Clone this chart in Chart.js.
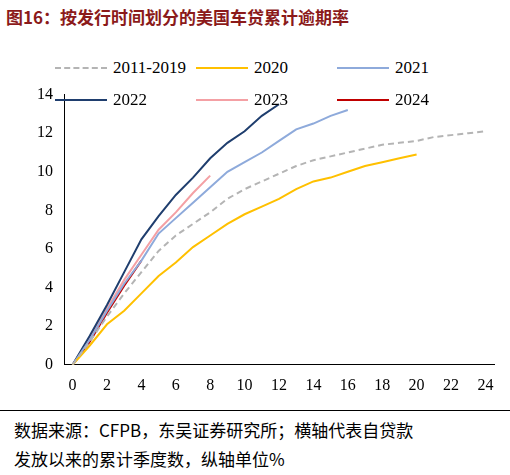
<!DOCTYPE html>
<html><head><meta charset="utf-8">
<script src="https://cdn.jsdelivr.net/npm/chart.js@4"></script>
<style>
body{margin:0;background:#fff;font-family:"Liberation Serif","Noto Sans CJK SC",serif;}
#title{position:absolute;left:6px;top:4px;font-family:"Noto Sans CJK SC";font-weight:bold;font-size:17px;color:#8b1a1a;}
#wrap{position:absolute;left:34px;top:82px;width:464px;height:316px;}
#legend{position:absolute;left:55px;top:58px;width:420px;font-size:17px;}
.item{position:absolute;display:flex;align-items:center;}
.sw{width:52px;height:0;border-top:2.5px solid;margin-right:6px;}
#foot{position:absolute;left:0;top:410px;width:510px;padding-left:14px;box-sizing:border-box;font-family:"Noto Sans CJK SC";font-size:17px;line-height:29px;border-top:1px solid #000;padding-top:4px;}
</style></head><body>
<div id="title">图16：按发行时间划分的美国车贷累计逾期率</div>
<div id="wrap"><canvas id="c"></canvas></div>
<div id="legend"></div>
<div id="foot">数据来源：CFPB，东吴证券研究所；横轴代表自贷款<br>发放以来的累计季度数，纵轴单位%</div>
<script>
const quarters = Array.from({length: 25}, (_, i) => i);
const s2011_2019 = [0,1.2,2.5,3.7,4.8,5.9,6.7,7.3,7.9,8.6,9.1,9.5,9.9,10.3,10.6,10.8,11.0,11.2,11.4,11.5,11.6,11.8,11.9,12.0,12.1];
const s2020 = [0,1.0,2.1,2.8,3.7,4.6,5.3,6.1,6.7,7.3,7.8,8.2,8.6,9.1,9.5,9.7,10.0,10.3,10.5,10.7,10.9];
const s2021 = [0,1.3,2.8,4.2,5.4,6.8,7.6,8.4,9.2,10.0,10.5,11.0,11.6,12.2,12.5,12.9,13.2];
const s2022 = [0,1.5,3.1,4.8,6.5,7.7,8.8,9.7,10.7,11.5,12.1,12.9,13.5];
const s2023 = [0,1.4,2.9,4.4,5.7,7.0,7.9,8.9,9.8];
const s2024 = [0,1.2,2.7,4.1,5.4];

const series = [
  {label:'2011-2019', data:s2011_2019, color:'#b4b4b4', dash:[6,4]},
  {label:'2020', data:s2020, color:'#ffc000'},
  {label:'2021', data:s2021, color:'#8eaadb'},
  {label:'2022', data:s2022, color:'#1f3e6e'},
  {label:'2023', data:s2023, color:'#f4a0a4'},
  {label:'2024', data:s2024, color:'#c00000'}
];

const leg = document.getElementById('legend');
series.forEach((s, i) => {
  const d = document.createElement('div');
  d.className = 'item';
  d.style.left = (i % 3) * 141 + 'px';
  d.style.top = Math.floor(i / 3) * 32 + 'px';
  d.innerHTML = `<span class="sw" style="border-color:${s.color};border-top-style:${s.dash ? 'dashed' : 'solid'}"></span>${s.label}`;
  leg.appendChild(d);
});

new Chart(document.getElementById('c'), {
  type: 'line',
  data: {
    datasets: series.map(s => ({
      label: s.label,
      data: s.data.map((v, i) => ({x: quarters[i], y: v})),
      borderColor: s.color,
      borderWidth: 2,
      borderDash: s.dash || [],
      pointRadius: 0,
      tension: 0
    }))
  },
  options: {
    responsive: true, maintainAspectRatio: false, animation: false,
    layout: {padding: {right: 4}},
    plugins: {legend: {display: false}, tooltip: {enabled: false}},
    scales: {
      x: {type: 'linear', min: -0.5, max: 24.5,
        afterBuildTicks: a => { a.ticks = quarters.map(v => ({value: v})); },
        grid: {display: false},
        border: {color: '#000'},
        ticks: {color: '#000', font: {family: 'Liberation Serif', size: 16}, autoSkip: false,
          maxRotation: 0, minRotation: 0,
          callback: v => v % 2 === 0 ? v : ''}},
      y: {min: 0, max: 14,
        grid: {display: false},
        border: {color: '#000'},
        ticks: {stepSize: 2, color: '#000', font: {family: 'Liberation Serif', size: 16}}}
    }
  }
});
</script>
</body></html>
